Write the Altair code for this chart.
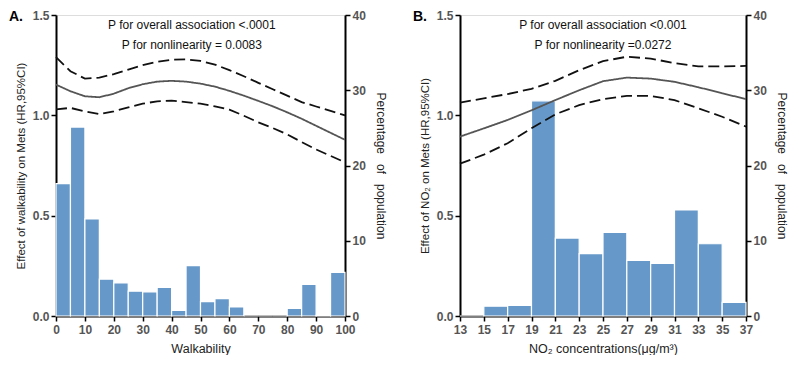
import altair as alt
import pandas as pd

# ---- Panel A data ----
walk_bin_start = [0, 5, 10, 15, 20, 25, 30, 35, 40, 45, 50, 55, 60, 65, 70, 75, 80, 85, 90, 95]
walk_pct = [17.6, 25.1, 12.9, 4.9, 4.4, 3.3, 3.2, 3.8, 0.75, 6.7, 1.9, 2.3, 1.2, 0, 0, 0, 1.0, 4.2, 0.1, 5.8]
walk_x = [0, 5, 10, 15, 20, 25, 30, 35, 40, 45, 50, 55, 60, 65, 70, 75, 80, 85, 90, 95, 100]
walk_hr = [1.153, 1.120, 1.095, 1.090, 1.108, 1.135, 1.155, 1.168, 1.172, 1.168, 1.158,
           1.143, 1.122, 1.098, 1.072, 1.045, 1.015, 0.983, 0.948, 0.913, 0.878]
walk_hi = [1.290, 1.220, 1.183, 1.188, 1.205, 1.228, 1.250, 1.267, 1.277, 1.279, 1.271,
           1.253, 1.225, 1.195, 1.162, 1.130, 1.098, 1.066, 1.044, 1.022, 1.000]
walk_lo = [1.030, 1.037, 1.020, 1.006, 1.020, 1.040, 1.058, 1.070, 1.073, 1.066, 1.058,
           1.045, 1.028, 0.998, 0.965, 0.937, 0.905, 0.867, 0.830, 0.798, 0.766]

# ---- Panel B data ----
no2_bin_start = [13, 15, 17, 19, 21, 23, 25, 27, 29, 31, 33, 35]
no2_pct = [0, 1.3, 1.4, 28.6, 10.35, 8.3, 11.1, 7.4, 7.0, 14.1, 9.6, 1.8]
no2_x = [13, 15, 17, 19, 21, 23, 25, 27, 29, 31, 33, 35, 37]
no2_hr = [0.894, 0.935, 0.977, 1.025, 1.076, 1.125, 1.170, 1.188, 1.183, 1.167, 1.140, 1.110, 1.081]
no2_hi = [1.063, 1.085, 1.106, 1.132, 1.172, 1.225, 1.270, 1.292, 1.283, 1.260, 1.244, 1.244, 1.246]
no2_lo = [0.759, 0.804, 0.861, 0.936, 1.005, 1.051, 1.081, 1.097, 1.097, 1.076, 1.035, 0.993, 0.944]

FONT = "Liberation Sans"
H = 301
NB = "\u00a0"


def axis_common(**kw):
    base = dict(domainColor="black", domainWidth=2, tickColor="black", tickWidth=1.5,
                tickSize=5, labelFont=FONT, labelFontSize=12, labelFontWeight="bold",
                labelColor="#555555", titleFont=FONT, titleFontSize=11.5,
                titleFontWeight="normal", titleColor="#222222", grid=False,
                labelOverlap=False, labelFlush=False)
    base.update(kw)
    return alt.Axis(**base)


def panel(bin_start, bin_w, pct, xs, hr, hi, lo, xdom, xticks, xtitle, ytitle,
          p1, p2, text_x, label, width):
    bars_df = pd.DataFrame({"x0": bin_start, "x1": [b + bin_w for b in bin_start],
                            "pct": pct, "zero": [0] * len(pct)})
    rows = []
    for k, arr in (("est", hr), ("hi", hi), ("lo", lo)):
        for xv, yv in zip(xs, arr):
            rows.append({"x": xv, "hr": yv, "kind": k})
    line_df = pd.DataFrame(rows)
    xscale = alt.Scale(domain=xdom, nice=False, zero=False)
    xaxis = axis_common(values=xticks, labelPadding=3, titlePadding=7, title=xtitle,
                        titleFontSize=12.5)

    bars = alt.Chart(bars_df).mark_bar(color="#6699c9", stroke="white", strokeWidth=1.2).encode(
        x=alt.X("x0:Q", scale=xscale, axis=xaxis),
        x2="x1:Q",
        y=alt.Y("pct:Q", scale=alt.Scale(domain=[0, 40], nice=False),
                axis=axis_common(orient="right", values=[0, 10, 20, 30, 40],
                                 title=f"Percentage{NB*3}of{NB*3}population",
                                 titleFontSize=12, titlePadding=8)),
        y2="zero:Q",
    )
    lines = alt.Chart(line_df).mark_line(strokeWidth=1.8).encode(
        x=alt.X("x:Q", scale=xscale, axis=xaxis),
        y=alt.Y("hr:Q", scale=alt.Scale(domain=[0, 1.5], nice=False),
                axis=axis_common(orient="left", values=[0, 0.5, 1.0, 1.5], format=".1f",
                                 title=ytitle, titlePadding=6)),
        detail="kind:N",
        color=alt.Color("kind:N", scale=alt.Scale(domain=["est", "hi", "lo"],
                                                  range=["#555555", "#111111", "#111111"]),
                        legend=None),
        strokeDash=alt.StrokeDash("kind:N", scale=alt.Scale(domain=["est", "hi", "lo"],
                                                            range=[[1, 0], [11, 5], [11, 5]]),
                                  legend=None),
    )
    txt_df = pd.DataFrame({"x": [text_x, text_x], "t": [p1, p2], "yy": [10, 30]})
    texts = alt.Chart(txt_df).mark_text(font=FONT, fontSize=12, color="#111111",
                                        baseline="middle").encode(
        x=alt.X("x:Q", scale=xscale, axis=xaxis),
        y=alt.Y("yy:Q", scale=None),
        text="t:N",
    )
    lab = alt.Chart(pd.DataFrame({"t": [label]})).mark_text(
        font=FONT, fontSize=14, fontWeight="bold", color="black", align="left",
        baseline="middle").encode(
        x=alt.value(-47), y=alt.value(2), text="t:N")
    return alt.layer(bars, lines, texts, lab).resolve_scale(y="independent").properties(
        width=width, height=H)


pa = panel(walk_bin_start, 5, walk_pct, walk_x, walk_hr, walk_hi, walk_lo,
           [0, 100], list(range(0, 101, 10)), "Walkability",
           "Effect of walkability on Mets (HR,95%CI)",
           "P for overall association <.0001", "P for nonlinearity = 0.0083", 47, "A.", 289)
pb = panel(no2_bin_start, 2, no2_pct, no2_x, no2_hr, no2_hi, no2_lo,
           [13, 37], list(range(13, 38, 2)), "NO₂ concentrations(μg/m³)",
           "Effect of NO₂ on Mets (HR,95%CI)",
           "P for overall association <0.001", "P for nonlinearity =0.0272", 25, "B.", 286)

chart = alt.hconcat(pa, pb, spacing=25).configure_view(stroke=None).configure(
    background="white", padding=0).configure_axis(labelOverlap=False, labelFlush=False)
chart.save("out.html", embed_options={"renderer": "svg", "actions": False})
